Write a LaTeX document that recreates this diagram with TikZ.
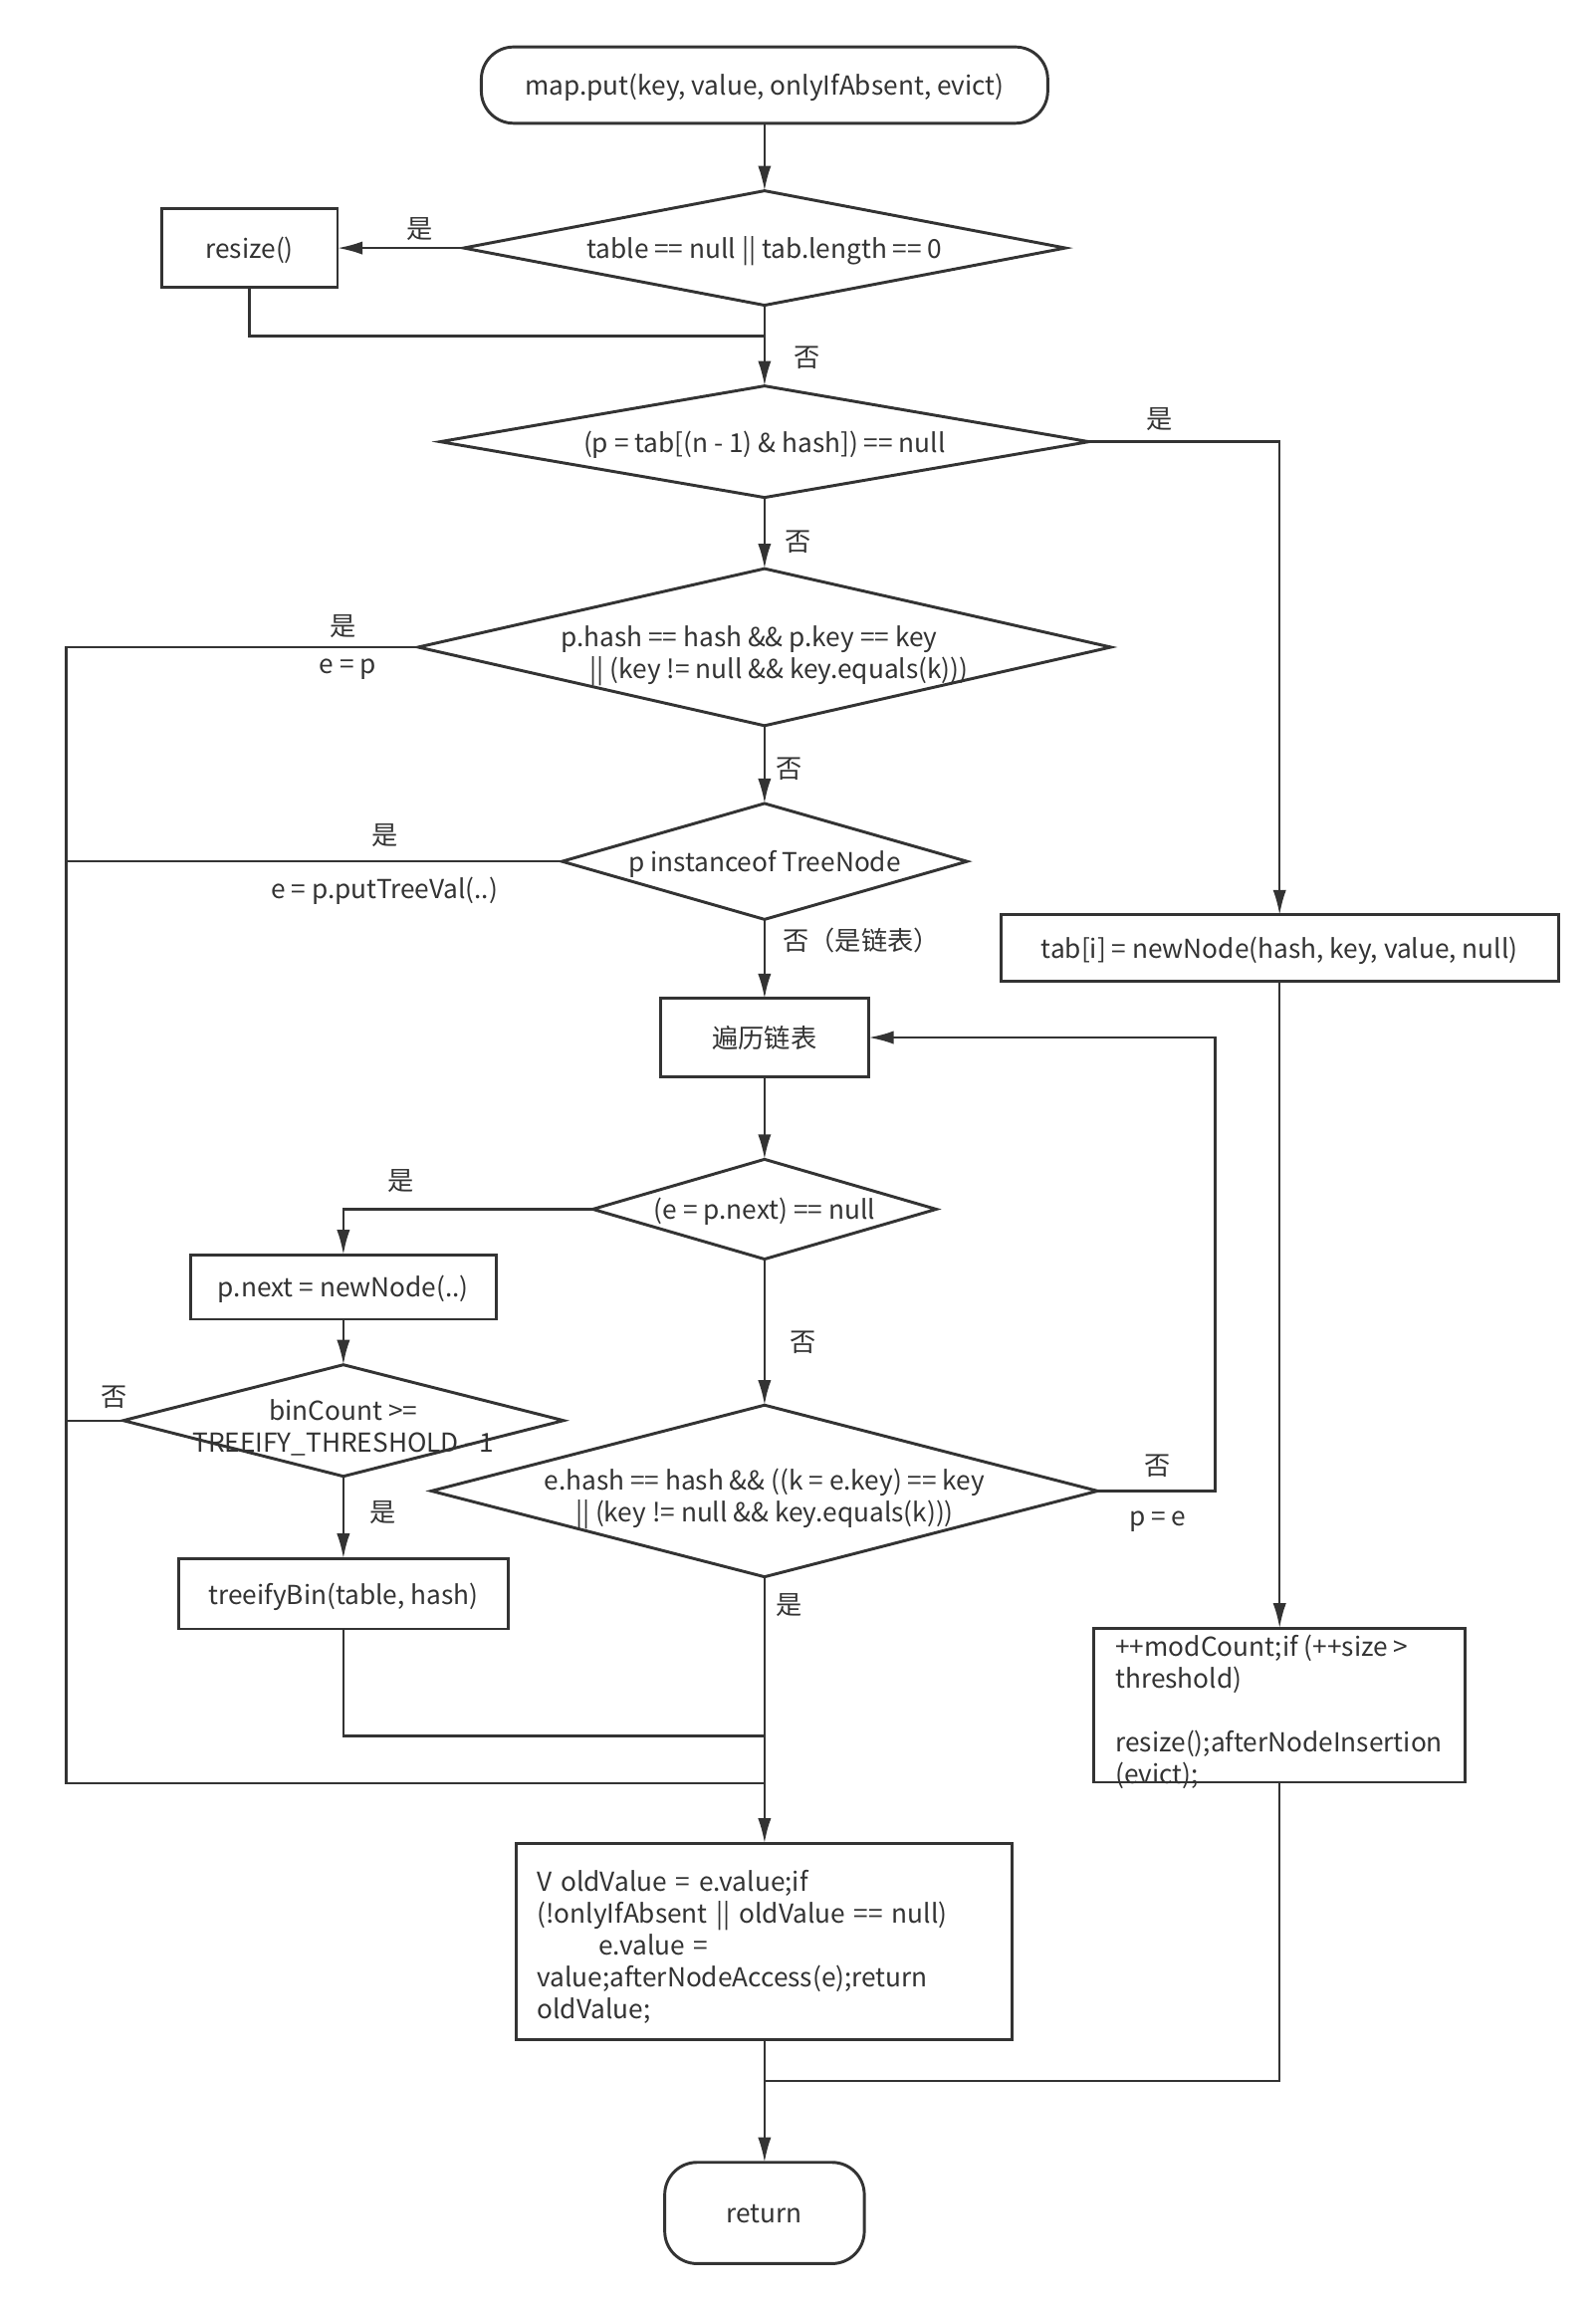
\documentclass[tikz,border=0pt]{standalone}
\usepackage{fontspec}
\setmainfont{Noto Sans CJK SC}
\usepackage{xcolor}
\usepackage{tikz}
\usetikzlibrary{positioning,arrows.meta,shapes.geometric,calc}
\definecolor{ink}{HTML}{333333}
\newcommand{\twolines}[1]{\makebox[0pt]{\raisebox{-10.5pt}[0pt][0pt]{#1}}}

\begin{document}
\begin{tikzpicture}[
    x=1pt, y=-1pt,
    font=\fontsize{17.8}{21.7}\selectfont,
    terminal/.style={rectangle, draw=ink, line width=2pt, rounded corners=#1, inner sep=0pt, outer sep=0pt, text=ink},
    process/.style={rectangle, draw=ink, line width=2pt, inner sep=0pt, outer sep=0pt, text=ink},
    decision/.style 2 args={diamond, draw=ink, line width=2pt, minimum width=#1, minimum height=#2, inner sep=0pt, outer sep=0pt, text=ink},
    oneline/.style={text height=17.7pt, text depth=3.6pt},
    lbl/.style={inner sep=0pt, text=ink},
    line/.style={draw=ink, line width=1.6pt},
    arrow/.style={line, -{Latex[length=17pt,width=9pt]}},
  ]
  \path[use as bounding box, fill=white] (0,0) rectangle (1087,1568);

  % Start and end
  \node[terminal=22pt, oneline, minimum width=386pt, minimum height=52pt] (start) at (521,58) {map.put(key, value, onlyIfAbsent, evict)};
  \node[terminal=22pt, oneline, minimum width=136pt, minimum height=69pt] (ret) at (521,1508) {return};

  % Decisions
  \node[decision={410pt}{78pt}, oneline] (d1) at (521,169) {\makebox[0pt]{table == null || tab.length == 0}};
  \node[decision={442pt}{76pt}, oneline] (d2) at (521,301) {\makebox[0pt]{(p = tab[(n - 1) \& hash]) == null}};
  \node[decision={472pt}{107pt}] (d3) at (521,441) {\twolines{\begin{tabular}{@{}l@{}}p.hash == hash \&\& p.key == key\\\hspace*{20pt}|| (key != null \&\& key.equals(k)))\end{tabular}}};
  \node[decision={276pt}{79pt}, oneline] (d4) at (521,587) {\makebox[0pt]{p instanceof TreeNode}};
  \node[decision={234pt}{68pt}, oneline] (d5) at (521,824) {\makebox[0pt]{(e = p.next) == null}};
  \node[decision={454pt}{117pt}] (d6) at (521,1016) {\twolines{\begin{tabular}{@{}c@{}}e.hash == hash \&\& ((k = e.key) == key\\|| (key != null \&\& key.equals(k)))\end{tabular}}};
  \node[decision={300pt}{76pt}] (d7) at (234,968) {\twolines{\begin{tabular}{@{}c@{}}binCount >=\\TREEIFY\_THRESHOLD - 1\end{tabular}}};

  % Processes
  \node[process, oneline, minimum width=120pt, minimum height=54pt] (resize) at (170,169) {resize()};
  \node[process, oneline, minimum width=142pt, minimum height=53pt] (loop) at (521,707) {遍历链表};
  \node[process, oneline, minimum width=380pt, minimum height=45pt] (tab) at (872,646) {tab[i] = newNode(hash, key, value, null)};
  \node[process, oneline, minimum width=208pt, minimum height=44pt] (pn) at (234,877) {p.next = newNode(..)};
  \node[process, oneline, minimum width=225pt, minimum height=48pt] (tb) at (234,1086) {treeifyBin(table, hash)};
  \node[process, text width=310pt, inner xsep=14pt, minimum height=134pt, align=left] (vbox) at (521,1323)
    {\rule{0pt}{21.7pt}V oldValue = e.value;if\\(!onlyIfAbsent || oldValue == null)\\\hspace*{42pt}e.value =\\value;afterNodeAccess(e);return\\oldValue;};
  \node[process, minimum width=253pt, minimum height=105pt] (mc) at (872,1162) {};
  \node[lbl, anchor=north west, align=left] (mctext) at (760,1114)
    {++modCount;if (++size >\\threshold)\\\mbox{}\\resize();afterNodeInsertion\\(evict);};

  % Joins
  \coordinate (j1) at (521,229);
  \coordinate (j2) at (521,1183);
  \coordinate (j3) at (521,1215);
  \coordinate (j4) at (521,1418);
  \coordinate (lft) at (45,1215);
  \coordinate (back) at (828,707);

  % Connectors
  \draw[arrow] (start) -- (d1);
  \draw[arrow] (d1.west) -- (resize.east);
  \draw[line] (resize.south) |- (j1);
  \draw[arrow] (d1.south) -- (d2.north);
  \draw[arrow] (d2.east) -| (tab.north);
  \draw[arrow] (d2.south) -- (d3.north);
  \draw[line] (d3.west) -| (lft) -- (j3);
  \draw[arrow] (d3.south) -- (d4.north);
  \draw[line] (d4.west) -- (d4.west -| lft);
  \draw[arrow] (d4.south) -- (loop.north);
  \draw[arrow] (loop.south) -- (d5.north);
  \draw[arrow] (d5.west) -| (pn.north);
  \draw[arrow] (d5.south) -- (d6.north);
  \draw[arrow] (pn.south) -- (d7.north);
  \draw[line] (d7.west) -- (d7.west -| lft);
  \draw[arrow] (d7.south) -- (tb.north);
  \draw[line] (tb.south) |- (j2);
  \draw[arrow] (d6.east) -| (back) -- (loop.east);
  \draw[arrow] (d6.south) -- (vbox.north);
  \draw[arrow] (tab.south) -- (mc.north);
  \draw[line] (mc.south) |- (j4);
  \draw[arrow] (vbox.south) -- (ret.north);

  % Branch labels
  \node[lbl] (y1) at (286,156) {是};
  \node[lbl] (n1) at (550,244) {否};
  \node[lbl] (y2) at (790,286) {是};
  \node[lbl] (n2) at (544,369) {否};
  \node[lbl] (y3) at (234,427) {是};
  \node[lbl] (ep) at (237,456) {e = p};
  \node[lbl] (n3) at (538,524) {否};
  \node[lbl] (y4) at (262,569) {是};
  \node[lbl] (put) at (262,607) {e = p.putTreeVal(..)};
  \node[lbl] (n4) at (587,641) {否（是链表）};
  \node[lbl] (y5) at (273,805) {是};
  \node[lbl] (n5) at (547,915) {否};
  \node[lbl] (n7) at (78,952) {否};
  \node[lbl] (y7) at (261,1031) {是};
  \node[lbl] (n6) at (789,999) {否};
  \node[lbl] (pe) at (789,1037) {p = e};
  \node[lbl] (y6) at (538,1094) {是};
\end{tikzpicture}
\end{document}
